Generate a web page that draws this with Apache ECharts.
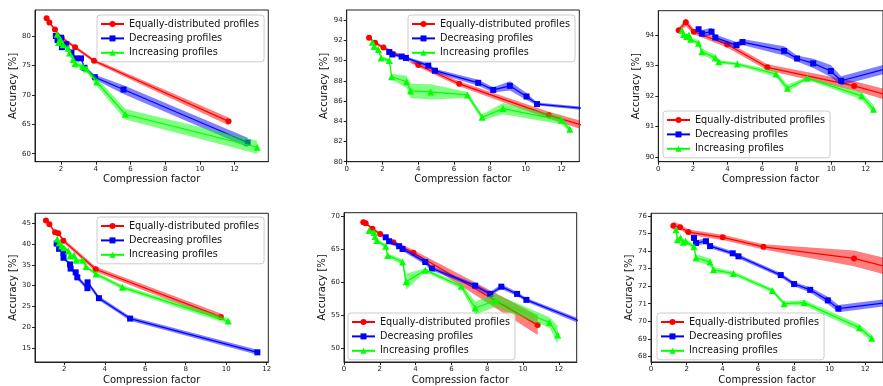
<!DOCTYPE html>
<html><head><meta charset="utf-8">
<script src="https://cdn.jsdelivr.net/npm/echarts@6/dist/echarts.min.js"></script>
<style>html,body{margin:0;padding:0;background:#fff}#c{width:883px;height:386px}</style>
</head><body><div id="c"></div>
<script>
// ---------- DATA ----------
const NAMES = ['Equally-distributed profiles', 'Decreasing profiles', 'Increasing profiles'];
const X_TITLE = 'Compression factor';
const Y_TITLE = 'Accuracy [%]';

// Panel 1 (top-left)
const p1EqX = [1.17, 1.33, 1.65, 2.04, 2.81, 3.9, 11.65];
const p1EqY = [83.0, 82.3, 81.1, 79.7, 78.1, 75.8, 65.5];
const p1EqS = [0.2, 0.2, 0.2, 0.25, 0.25, 0.3, 0.65];
const p1DecX = [1.7, 1.8, 2.0, 2.05, 2.3, 2.6, 2.85, 3.15, 3.35, 3.95, 5.6, 12.75];
const p1DecY = [80.0, 79.3, 79.7, 78.1, 78.6, 77.2, 76.2, 76.2, 74.6, 73.0, 70.9, 61.9];
const p1DecS = [0.2, 0.2, 0.2, 0.2, 0.2, 0.25, 0.25, 0.25, 0.3, 0.4, 0.75, 0.8];
const p1IncX = [1.78, 1.85, 1.97, 2.12, 2.4, 2.5, 2.7, 2.8, 3.25, 3.45, 4.05, 5.7, 13.3];
const p1IncY = [80.3, 78.9, 79.4, 78.5, 77.9, 77.1, 76.0, 75.3, 74.8, 74.4, 72.2, 66.7, 61.1];
const p1IncS = [0.3, 0.3, 0.3, 0.3, 0.3, 0.4, 0.5, 0.6, 0.4, 0.4, 0.7, 0.9, 1.1];
const p1XTicks = [2, 4, 6, 8, 10, 12];
const p1YTicks = [60, 65, 70, 75, 80];

// Panel 2 (top-middle)
const p2EqX = [1.25, 1.58, 2.05, 4.0, 6.29, 11.29, 16];
const p2EqY = [92.25, 91.75, 91.3, 89.56, 87.7, 84.6, 82.1];
const p2EqS = [0.1, 0.15, 0.15, 0.2, 0.25, 0.35, 0.5];
const p2DecX = [2.38, 2.55, 3.07, 3.31, 4.56, 4.93, 7.35, 8.19, 9.12, 10.05, 10.64, 16];
const p2DecY = [90.85, 90.6, 90.4, 90.26, 89.5, 89.0, 87.8, 87.1, 87.5, 86.45, 85.7, 84.8];
const p2DecS = [0.15, 0.15, 0.15, 0.15, 0.2, 0.2, 0.3, 0.25, 0.45, 0.35, 0.15, 0.2];
const p2IncX = [1.43, 1.53, 1.77, 1.92, 2.38, 2.51, 3.35, 3.57, 4.69, 6.75, 7.57, 8.74, 12.0, 12.47];
const p2IncY = [91.8, 91.4, 91.1, 90.26, 90.0, 88.4, 87.9, 87.0, 86.9, 86.6, 84.4, 85.25, 84.1, 83.2];
const p2IncS = [0.2, 0.2, 0.2, 0.2, 0.2, 0.3, 0.6, 0.7, 0.75, 0.3, 0.3, 0.55, 0.4, 0.3];
const p2XTicks = [0, 2, 4, 6, 8, 10, 12];
const p2YTicks = [80, 82, 84, 86, 88, 90, 92, 94];

// Panel 3 (top-right)
const p3EqX = [1.18, 1.59, 2.05, 3.98, 6.31, 11.33, 15];
const p3EqY = [94.16, 94.42, 94.11, 93.69, 92.94, 92.33, 91.76];
const p3EqS = [0.06, 0.13, 0.08, 0.1, 0.1, 0.15, 0.2];
const p3DecX = [2.33, 2.52, 3.08, 3.3, 4.52, 4.87, 7.28, 8.03, 8.96, 9.98, 10.58, 14.5];
const p3DecY = [94.19, 94.05, 94.11, 93.92, 93.67, 93.77, 93.48, 93.23, 93.07, 92.82, 92.5, 93.09];
const p3DecS = [0.12, 0.12, 0.12, 0.1, 0.1, 0.1, 0.15, 0.1, 0.15, 0.2, 0.15, 0.15];
const p3IncX = [1.36, 1.46, 1.64, 1.77, 1.87, 2.33, 2.52, 3.3, 3.5, 4.57, 6.81, 7.47, 8.62, 11.76, 12.45];
const p3IncY = [94.16, 94.02, 93.95, 94.0, 93.86, 93.73, 93.45, 93.25, 93.12, 93.05, 92.72, 92.25, 92.58, 92.0, 91.56];
const p3IncS = [0.05, 0.07, 0.07, 0.07, 0.07, 0.08, 0.1, 0.1, 0.06, 0.05, 0.1, 0.12, 0.05, 0.12, 0.15];
const p3XTicks = [0, 2, 4, 6, 8, 10, 12];
const p3YTicks = [90, 91, 92, 93, 94];

// Panel 4 (bottom-left)
const p4EqX = [1.09, 1.26, 1.54, 1.70, 1.95, 3.55, 9.74];
const p4EqY = [45.63, 44.76, 42.8, 42.6, 40.8, 33.95, 22.5];
const p4EqS = [0.3, 0.3, 0.3, 0.4, 0.5, 0.6, 0.8];
const p4DecX = [1.62, 1.74, 1.95, 1.96, 2.28, 2.31, 2.56, 2.64, 3.14, 3.15, 3.71, 5.25, 11.54];
const p4DecY = [40.1, 38.84, 37.9, 36.7, 35.1, 34.1, 33.2, 32.0, 29.4, 30.8, 27.0, 22.1, 14.0];
const p4DecS = [0.3, 0.3, 0.3, 0.3, 0.4, 0.4, 0.4, 0.5, 0.5, 0.5, 0.5, 0.5, 0.6];
const p4IncX = [1.65, 1.75, 1.87, 1.98, 2.2, 2.28, 2.48, 2.58, 2.91, 3.07, 3.57, 4.87, 10.1];
const p4IncY = [41.2, 40.26, 39.5, 39.1, 38.3, 37.1, 37.3, 36.1, 36.1, 34.6, 32.8, 29.6, 21.5];
const p4IncS = [0.4, 0.4, 0.4, 0.4, 0.4, 0.4, 0.4, 0.4, 0.4, 0.4, 0.5, 0.5, 0.7];
const p4XTicks = [2, 4, 6, 8, 10, 12];
const p4YTicks = [15, 20, 25, 30, 35, 40, 45];

// Panel 5 (bottom-middle)
const p5EqX = [1.08, 1.21, 1.59, 2.02, 2.76, 3.88, 10.82];
const p5EqY = [69.05, 68.9, 68.06, 67.26, 66.0, 64.43, 53.48];
const p5EqS = [0.15, 0.2, 0.2, 0.25, 0.3, 0.4, 1.5];
const p5DecX = [2.33, 2.52, 3.08, 3.27, 4.54, 4.91, 7.33, 8.17, 8.79, 9.67, 10.19, 14.5];
const p5DecY = [66.77, 66.17, 65.42, 65.0, 63.03, 62.04, 59.45, 58.2, 59.3, 58.2, 57.3, 52.64];
const p5DecS = [0.3, 0.3, 0.3, 0.3, 0.4, 0.3, 0.3, 0.3, 0.35, 0.3, 0.3, 0.4];
const p5IncX = [1.4, 1.68, 1.74, 1.83, 2.33, 2.44, 3.27, 3.47, 4.54, 6.55, 7.33, 8.45, 11.48, 11.94];
const p5IncY = [67.8, 67.5, 66.9, 66.3, 65.4, 64.03, 63.03, 60.05, 61.8, 59.35, 56.07, 57.21, 53.88, 51.99];
const p5IncS = [0.3, 0.3, 0.3, 0.3, 0.3, 0.3, 0.4, 1.2, 0.3, 0.4, 1.0, 1.0, 0.8, 1.4];
const p5XTicks = [0, 2, 4, 6, 8, 10, 12];
const p5YTicks = [50, 55, 60, 65, 70];

// Panel 6 (bottom-right)
const p6EqX = [1.25, 1.63, 2.09, 4.02, 6.3, 11.38, 15];
const p6EqY = [75.44, 75.36, 75.08, 74.78, 74.24, 73.58, 72.64];
const p6EqS = [0.25, 0.15, 0.15, 0.15, 0.15, 0.45, 0.5];
const p6DecX = [2.41, 2.52, 3.08, 3.31, 4.58, 4.9, 7.27, 8.02, 8.92, 9.91, 10.5, 15];
const p6DecY = [74.75, 74.46, 74.56, 74.28, 73.87, 73.7, 72.63, 72.12, 71.79, 71.19, 70.72, 71.29];
const p6DecS = [0.15, 0.15, 0.15, 0.12, 0.12, 0.12, 0.12, 0.12, 0.15, 0.2, 0.2, 0.2];
const p6IncX = [1.4, 1.48, 1.66, 1.81, 1.94, 2.41, 2.52, 3.31, 3.5, 4.62, 6.8, 7.46, 8.58, 11.68, 12.37];
const p6IncY = [75.21, 74.65, 74.75, 74.5, 74.56, 74.24, 73.62, 73.38, 72.93, 72.72, 71.75, 71.0, 71.06, 69.63, 69.03];
const p6IncS = [0.2, 0.15, 0.15, 0.12, 0.12, 0.15, 0.2, 0.2, 0.15, 0.12, 0.12, 0.12, 0.15, 0.2, 0.2];
const p6XTicks = [0, 2, 4, 6, 8, 10, 12];
const p6YTicks = [68, 69, 70, 71, 72, 73, 74, 75, 76];

// ---------- LAYOUT / STYLE ----------
const FONT = 'DejaVu Sans';
const COLORS = ['#ff0000', '#0000ff', '#00ff00'];
const BANDS = ['rgba(255,0,0,0.5)', 'rgba(0,0,255,0.5)', 'rgba(0,255,0,0.5)'];
const SYMBOLS = ['circle', 'rect', 'triangle'];
const SYMSIZE = [6, 6, 7];

const panels = [
  {grid: {left: 35, top: 10, width: 233.3, height: 151.7}, xr: [0.5, 13.94], yr: [58.64, 84.42],
   xt: p1XTicks, yt: p1YTicks, legend: {left: 97, top: 15},
   s: [[p1EqX, p1EqY, p1EqS], [p1DecX, p1DecY, p1DecS], [p1IncX, p1IncY, p1IncS]]},
  {grid: {left: 346.7, top: 10, width: 232.6, height: 151.7}, xr: [0, 13], yr: [80, 95],
   xt: p2XTicks, yt: p2YTicks, legend: {left: 408, top: 15},
   s: [[p2EqX, p2EqY, p2EqS], [p2DecX, p2DecY, p2DecS], [p2IncX, p2IncY, p2IncS]]},
  {grid: {left: 658.3, top: 10.7, width: 232.7, height: 151}, xr: [0, 13], yr: [89.84, 94.8],
   xt: p3XTicks, yt: p3YTicks, legend: {left: 663, top: 111},
   s: [[p3EqX, p3EqY, p3EqS], [p3DecX, p3DecY, p3DecS], [p3IncX, p3IncY, p3IncS]]},
  {grid: {left: 35, top: 213.3, width: 233.3, height: 150.7}, xr: [0.55, 12.08], yr: [11.68, 47.37],
   xt: p4XTicks, yt: p4YTicks, legend: {left: 97, top: 217},
   s: [[p4EqX, p4EqY, p4EqS], [p4DecX, p4DecY, p4DecS], [p4IncX, p4IncY, p4IncS]]},
  {grid: {left: 344, top: 212.7, width: 232.7, height: 151.3}, xr: [0, 13], yr: [47.9, 70.49],
   xt: p5XTicks, yt: p5YTicks, legend: {left: 348, top: 313},
   s: [[p5EqX, p5EqY, p5EqS], [p5DecX, p5DecY, p5DecS], [p5IncX, p5IncY, p5IncS]]},
  {grid: {left: 651, top: 213.3, width: 232, height: 150.7}, xr: [0, 13], yr: [67.68, 76.15],
   xt: p6XTicks, yt: p6YTicks, legend: {left: 657, top: 313},
   s: [[p6EqX, p6EqY, p6EqS], [p6DecX, p6DecY, p6DecS], [p6IncX, p6IncY, p6IncS]]}
];

const AX = '#222';
const grid = [], xAxis = [], yAxis = [], series = [], legend = [];

function bandSeries(idx, xs, ys, ss, fill, z) {
  return {
    type: 'custom', xAxisIndex: idx, yAxisIndex: idx, clip: true, silent: true, z: z,
    data: [[xs[0], ys[0]]],
    renderItem: function (params, api) {
      const pts = [];
      for (let i = 0; i < xs.length; i++) pts.push(api.coord([xs[i], ys[i] + ss[i]]));
      for (let i = xs.length - 1; i >= 0; i--) pts.push(api.coord([xs[i], ys[i] - ss[i]]));
      return {type: 'polygon', shape: {points: pts}, style: {fill: fill, stroke: null}};
    }
  };
}

panels.forEach(function (p, i) {
  grid.push(Object.assign({show: true, borderColor: AX, borderWidth: 1, backgroundColor: 'transparent'}, p.grid));
  xAxis.push({
    gridIndex: i, type: 'value', min: p.xr[0], max: p.xr[1],
    axisLine: {show: true, onZero: false, lineStyle: {color: AX, width: 1}},
    axisTick: {show: true, length: 3, customValues: p.xt, lineStyle: {color: AX, width: 1}},
    axisLabel: {customValues: p.xt, fontSize: 7, color: '#222', margin: 4, fontFamily: FONT},
    splitLine: {show: false},
    name: X_TITLE, nameLocation: 'middle', nameGap: 13,
    nameTextStyle: {fontSize: 10, color: '#111', fontFamily: FONT}
  });
  yAxis.push({
    gridIndex: i, type: 'value', min: p.yr[0], max: p.yr[1],
    axisLine: {show: true, onZero: false, lineStyle: {color: AX, width: 1}},
    axisTick: {show: true, length: 3, customValues: p.yt, lineStyle: {color: AX, width: 1}},
    axisLabel: {customValues: p.yt, fontSize: 7, color: '#222', margin: 4, fontFamily: FONT},
    splitLine: {show: false},
    name: Y_TITLE, nameLocation: 'middle', nameGap: 15, nameRotate: 90,
    nameTextStyle: {fontSize: 10, color: '#111', fontFamily: FONT}
  });
  p.s.forEach(function (d, k) {
    series.push(bandSeries(i, d[0], d[1], d[2], BANDS[k], 2 + k * 2));
    series.push({
      type: 'line', name: NAMES[k], xAxisIndex: i, yAxisIndex: i, z: 3 + k * 2,
      data: d[0].map(function (x, j) { return [x, d[1][j]]; }),
      symbol: SYMBOLS[k], symbolSize: SYMSIZE[k], showSymbol: true, clip: true,
      lineStyle: {color: COLORS[k], width: 1.2},
      itemStyle: {color: COLORS[k], borderWidth: 0},
      emphasis: {disabled: true}
    });
  });
  legend.push({
    left: p.legend.left, top: p.legend.top, orient: 'vertical',
    data: NAMES, selectedMode: false,
    itemWidth: 23, itemHeight: 7.5, itemGap: 2.4,
    padding: [3, 5, 3, 3],
    backgroundColor: 'rgba(255,255,255,0.8)', borderColor: '#cccccc', borderWidth: 1, borderRadius: 3,
    textStyle: {fontSize: 9.7, fontFamily: FONT, color: '#111', lineHeight: 12}
  });
});

const chart = echarts.init(document.getElementById('c'), null, {renderer: 'canvas'});
chart.setOption({
  animation: false, backgroundColor: '#fff',
  grid: grid, xAxis: xAxis, yAxis: yAxis, series: series, legend: legend
});
</script></body></html>
